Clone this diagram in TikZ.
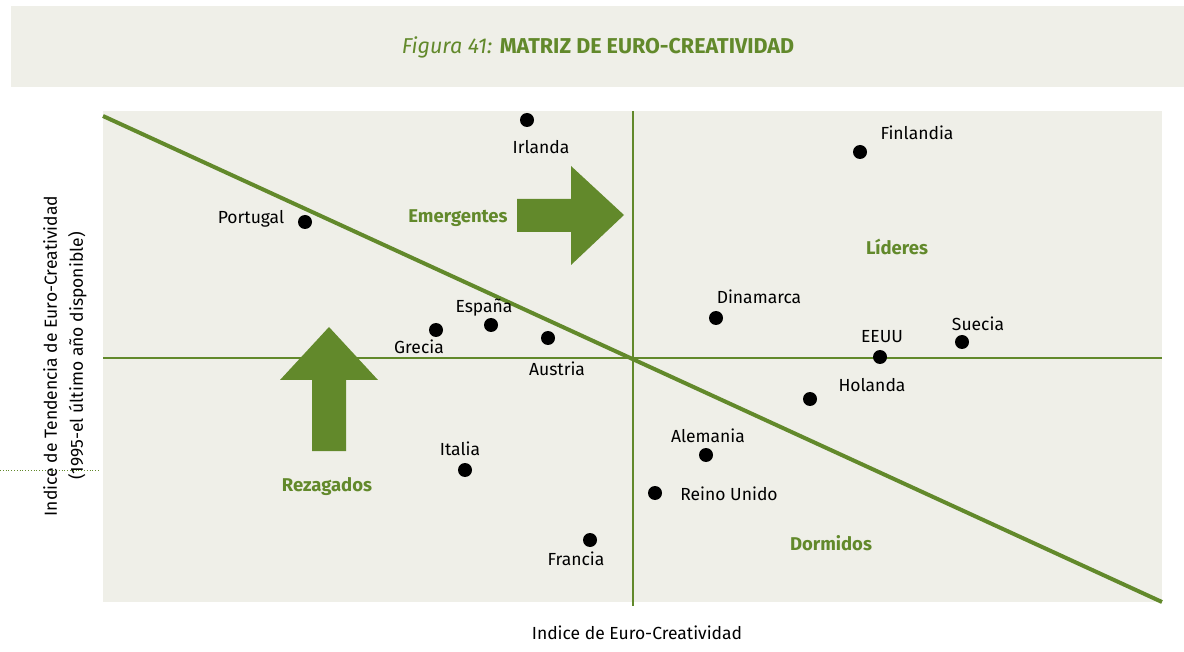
\documentclass[tikz,border=0pt]{standalone}
\usepackage{fontspec}
\setmainfont{Fira Sans}
\definecolor{verde}{RGB}{98,137,43}
\definecolor{fondo}{RGB}{239,239,232}
\begin{document}
\begin{tikzpicture}[
            x=1pt, y=-1pt,
            pais/.style={inner sep=0pt, font=\fontsize{17.5}{17.5}\selectfont},
            punto/.style={circle, fill=black, minimum size=14pt, inner sep=0pt},
            zona/.style={inner sep=0pt, text=verde, font=\fontsize{18.5}{18.5}\selectfont\bfseries},
            eje/.style={draw=verde, line width=2.4pt},
            flecha/.style={fill=verde}
            ]
            \useasboundingbox (0,0) rectangle (1184,652);
            \fill[fondo] (11,6) rectangle (1184,87);
            \fill[fondo] (103,111) rectangle (1162,602);
            \node (titulo) at (598,47) {\fontsize{21.5}{21.5}\selectfont\color{verde}\textit{Figura 41:} \textbf{MATRIZ DE EURO-CREATIVIDAD}};
            % ejes
            \coordinate (izq) at (103,358);
            \coordinate (der) at (1162,358);
            \coordinate (arr) at (633,111);
            \coordinate (aba) at (633,606);
            \coordinate (d1) at (103,116);
            \coordinate (d2) at (1162,602);
            \draw[eje] (izq) -- (der);
            \draw[eje] (arr) -- (aba);
            \draw[draw=verde, line width=4pt] (d1) -- (d2);
            \coordinate (g1) at (0,470);
            \coordinate (g2) at (100,470);
            \draw[verde, dotted, line width=0.8pt] (g1) -- (g2);
            % flechas
            \fill[flecha] (517,199) -- (571,199) -- (571,166) -- (624,215) -- (571,265) -- (571,232) -- (517,232) -- cycle;
            \fill[flecha] (312,451) -- (312,380) -- (280,380) -- (329,327) -- (378,380) -- (346,380) -- (346,451) -- cycle;
            % paises
            \node[punto] (irl) at (527,120) {};
            \node[punto] (fin) at (860,152) {};
            \node[punto] (por) at (305,222) {};
            \node[punto] (gre) at (436,330) {};
            \node[punto] (esp) at (491,325) {};
            \node[punto] (aus) at (548,338) {};
            \node[punto] (din) at (716,318) {};
            \node[punto] (eeu) at (880,357) {};
            \node[punto] (sue) at (962,342) {};
            \node[punto] (hol) at (810,399) {};
            \node[punto] (ale) at (706,455) {};
            \node[punto] (ita) at (465,470) {};
            \node[punto] (rei) at (655,493) {};
            \node[punto] (fra) at (590,540) {};
            \node[pais] at (541,147) {Irlanda};
            \node[pais] at (917,133) {Finlandia};
            \node[pais] at (251,219) {Portugal};
            \node[pais] at (484,308) {España};
            \node[pais] at (419,347) {Grecia};
            \node[pais] at (557,369) {Austria};
            \node[pais] at (759,297) {Dinamarca};
            \node[pais] at (882,337) {EEUU};
            \node[pais] at (978,324) {Suecia};
            \node[pais] at (872,385) {Holanda};
            \node[pais] at (708,436) {Alemania};
            \node[pais] at (460,449) {Italia};
            \node[pais] at (729,494) {Reino Unido};
            \node[pais] at (576,559) {Francia};
            % zonas
            \node[zona] at (458,218) {Emergentes};
            \node[zona] at (897,247) {Líderes};
            \node[zona] at (327,487) {Rezagados};
            \node[zona] at (831,543) {Dormidos};
            % titulos de ejes
            \node[pais] (ejex) at (637,633) {Indice de Euro-Creatividad};
            \node[pais, rotate=90, align=center, font=\fontsize{17.5}{26}\selectfont] (ejey) at (65,356) {Indice de Tendencia de Euro-Creatividad\\(1995-el último año disponible)};
\end{tikzpicture}
\end{document}
